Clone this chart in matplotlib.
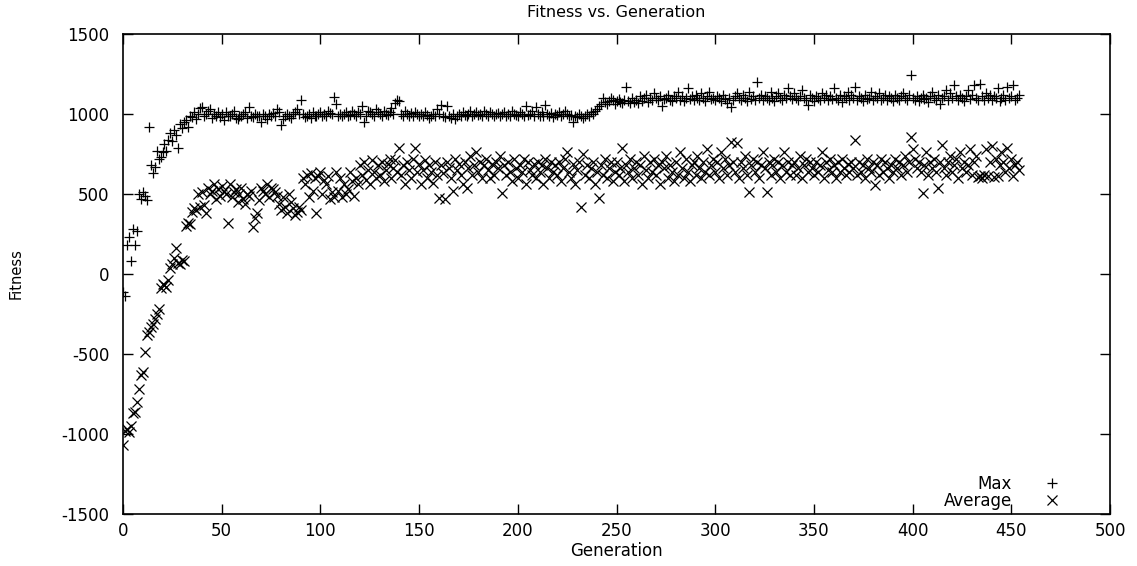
import matplotlib
matplotlib.use("Agg")
import matplotlib.pyplot as plt

plt.rcParams['font.family'] = ['DejaVu Sans']
plt.rcParams['axes.unicode_minus'] = False

# best fitness per generation
max_fitness = [
    -110, -140, 180, 230, 80, 280, 180, 270, 500, 470,
    510, 490, 460, 920, 680, 630, 670, 770, 720, 730,
    760, 810, 770, 840, 880, 830, 900, 870, 790, 940,
    910, 950, 960, 920, 990, 980, 1010, 970, 1000, 1040,
    1045, 990, 1000, 1020, 1030, 975, 1000, 990, 1015, 980,
    1000, 960, 1010, 985, 990, 1000, 1020, 975, 970, 990,
    985, 1000, 1010, 975, 1045, 990, 980, 1000, 990, 985,
    950, 1000, 990, 970, 1000, 985, 1005, 990, 1030, 1010,
    930, 970, 990, 1000, 990, 975, 1000, 1015, 1030, 1000,
    1090, 1000, 980, 990, 1000, 975, 1010, 990, 990, 1000,
    1010, 985, 1000, 990, 1020, 1005, 1000, 1106, 1060, 990,
    1000, 985, 1000, 1010, 990, 995, 1020, 1000, 985, 1010,
    1000, 1050, 950, 990, 1020, 1010, 1000, 990, 1030, 1015,
    1000, 985, 1020, 1000, 995, 1010, 1040, 1000, 1070, 1085,
    1080, 1000, 990, 1020, 1000, 985, 1005, 990, 1010, 1000,
    990, 1000, 985, 1010, 995, 975, 990, 1000, 985, 1030,
    1000, 1056, 990, 980, 1050, 990, 975, 1000, 970, 985,
    1000, 990, 1010, 995, 985, 1000, 1020, 990, 1000, 1010,
    995, 1000, 985, 1020, 1000, 990, 1010, 1000, 985, 1000,
    1005, 990, 1000, 1015, 985, 1000, 990, 1020, 1000, 995,
    990, 1010, 1000, 985, 1050, 995, 1000, 1020, 990, 1045,
    1000, 990, 1010, 985, 1055, 1000, 990, 1005, 980, 1000,
    995, 1010, 990, 1000, 1020, 1000, 985, 995, 950, 990,
    980, 1000, 990, 975, 985, 1000, 990, 1010, 1000, 1020,
    1030, 1050, 1060, 1100, 1075, 1060, 1080, 1100, 1090, 1060,
    1080, 1095, 1075, 1070, 1085, 1170, 1080, 1070, 1100, 1075,
    1090, 1070, 1110, 1080, 1100, 1120, 1075, 1100, 1090, 1130,
    1100, 1085, 1110, 1050, 1095, 1100, 1120, 1090, 1080, 1110,
    1100, 1140, 1090, 1110, 1080, 1100, 1160, 1095, 1110, 1085,
    1120, 1100, 1090, 1130, 1100, 1080, 1110, 1140, 1095, 1100,
    1090, 1110, 1100, 1080, 1120, 1095, 1070, 1100, 1044, 1085,
    1110, 1130, 1100, 1090, 1120, 1100, 1080, 1140, 1095, 1110,
    1090, 1200, 1100, 1120, 1085, 1110, 1100, 1090, 1140, 1100,
    1080, 1110, 1130, 1100, 1090, 1120, 1100, 1160, 1110, 1095,
    1130, 1100, 1085, 1110, 1150, 1100, 1090, 1056, 1120, 1100,
    1080, 1110, 1100, 1090, 1130, 1100, 1120, 1085, 1110, 1095,
    1160, 1100, 1090, 1120, 1075, 1110, 1100, 1140, 1085, 1120,
    1100, 1170, 1090, 1110, 1100, 1080, 1120, 1095, 1100, 1140,
    1090, 1110, 1100, 1130, 1085, 1100, 1120, 1090, 1110, 1100,
    1080, 1120, 1100, 1090, 1110, 1130, 1100, 1085, 1120, 1244,
    1100, 1090, 1110, 1080, 1100, 1120, 1095, 1100, 1075, 1110,
    1140, 1100, 1090, 1120, 1060, 1100, 1110, 1150, 1090, 1130,
    1100, 1180, 1110, 1090, 1120, 1100, 1080, 1110, 1150, 1095,
    1120, 1180, 1100, 1090, 1190, 1110, 1085, 1130, 1100, 1120,
    1090, 1110, 1100, 1160, 1080, 1100, 1120, 1090, 1170, 1100,
    1110, 1180, 1090, 1100, 1120,
]

# population average fitness per generation
avg_fitness = [
    -1070, -980, -970, -990, -950, -870, -860, -800, -720, -630,
    -610, -490, -380, -360, -330, -310, -280, -250, -220, -85,
    -60, -70, -80, -40, 40, 60, 100, 160, 70, 60,
    90, 80, 300, 320, 310, 390, 410, 400, 500, 420,
    510, 430, 380, 540, 500, 520, 560, 470, 530, 490,
    550, 520, 500, 318, 560, 480, 510, 530, 450, 500,
    540, 470, 440, 500, 490, 520, 294, 350, 380, 460,
    540, 520, 500, 560, 480, 540, 530, 510, 490, 440,
    400, 480, 420, 380, 500, 450, 410, 370, 390, 420,
    400, 600, 560, 620, 480, 630, 520, 600, 380, 610,
    640, 500, 590, 560, 610, 470, 510, 480, 640, 520,
    600, 480, 560, 500, 530, 640, 580, 490, 600, 560,
    680, 620, 700, 590, 650, 560, 710, 640, 600, 680,
    620, 700, 580, 650, 690, 720, 600, 660, 710, 640,
    790, 620, 680, 560, 700, 650, 600, 720, 790, 640,
    690, 560, 650, 710, 600, 680, 640, 570, 700, 620,
    475, 680, 630, 470, 700, 660, 600, 520, 720, 650,
    690, 620, 560, 700, 540, 660, 740, 620, 680, 760,
    640, 700, 600, 680, 720, 650, 600, 690, 620, 700,
    660, 740, 506, 680, 620, 700, 640, 580, 720, 660,
    600, 680, 640, 720, 560, 700, 650, 620, 690, 600,
    700, 640, 680, 560, 720, 660, 600, 700, 640, 680,
    620, 700, 580, 660, 720, 764, 640, 600, 690, 560,
    650, 700, 420, 750, 620, 680, 600, 660, 700, 560,
    640, 475, 680, 620, 720, 600, 660, 700, 580, 640,
    700, 620, 660, 790, 580, 680, 640, 720, 600, 660,
    700, 620, 680, 560, 740, 650, 600, 700, 640, 720,
    620, 680, 560, 700, 660, 740, 600, 680, 640, 580,
    700, 620, 760, 660, 600, 720, 640, 580, 680, 700,
    620, 740, 660, 600, 700, 640, 780, 620, 680, 720,
    640, 700, 600, 760, 660, 720, 620, 680, 825, 700,
    640, 819, 600, 700, 660, 740, 620, 514, 680, 720,
    640, 700, 600, 680, 760, 660, 514, 700, 620, 680,
    720, 640, 700, 600, 680, 760, 640, 700, 620, 680,
    700, 620, 660, 740, 600, 680, 720, 640, 700, 660,
    620, 700, 640, 680, 760, 600, 700, 650, 720, 640,
    680, 600, 700, 640, 720, 660, 620, 690, 640, 700,
    660, 837, 620, 700, 640, 680, 600, 720, 660, 640,
    700, 556, 680, 620, 720, 640, 700, 660, 600, 680,
    640, 720, 660, 700, 620, 680, 740, 640, 700, 856,
    780, 720, 660, 700, 640, 506, 680, 760, 620, 700,
    660, 720, 640, 537, 700, 806, 660, 620, 700, 740,
    640, 680, 720, 600, 760, 660, 700, 640, 680, 780,
    620, 700, 740, 606, 610, 600, 620, 780, 610, 700,
    800, 606, 720, 610, 680, 760, 700, 640, 790, 660,
    720, 610, 680, 700, 650,
]

generations = list(range(len(max_fitness)))

x_ticks = [0, 50, 100, 150, 200, 250, 300, 350, 400, 450, 500]
y_ticks = [-1500, -1000, -500, 0, 500, 1000, 1500]

fig = plt.figure(figsize=(11.37, 5.66), dpi=100)
ax = fig.add_axes([0.1082, 0.0919, 0.8681, 0.848])

ax.plot(generations, max_fitness, linestyle='none', marker='+', color='black',
        markersize=7, markeredgewidth=0.9, label='Max')
ax.plot(generations, avg_fitness, linestyle='none', marker='x', color='black',
        markersize=7, markeredgewidth=0.9, label='Average')

ax.set_xlim(0, 500)
ax.set_ylim(-1500, 1500)
ax.set_xticks(x_ticks)
ax.set_yticks(y_ticks)
ax.tick_params(direction='in', top=True, right=True, length=7, width=1,
               labelsize=12)
ax.tick_params(axis='x', pad=6)
ax.tick_params(axis='y', pad=10)
for s in ax.spines.values():
    s.set_linewidth(1.2)

ax.set_title('Fitness vs. Generation', fontsize=11.5, pad=12)
ax.set_xlabel('Generation', fontsize=12, labelpad=1)
ax.set_ylabel('Fitness', fontsize=10.5, labelpad=27)

ax.legend(loc='lower right', bbox_to_anchor=(0.973, -0.02), frameon=False,
          markerfirst=False, fontsize=12, handlelength=2.2, handletextpad=1.3,
          labelspacing=-0.05, borderpad=0.3)
for t in ax.get_legend().get_texts():
    t.set_ha('right')

fig.savefig('out.png', dpi=100)
